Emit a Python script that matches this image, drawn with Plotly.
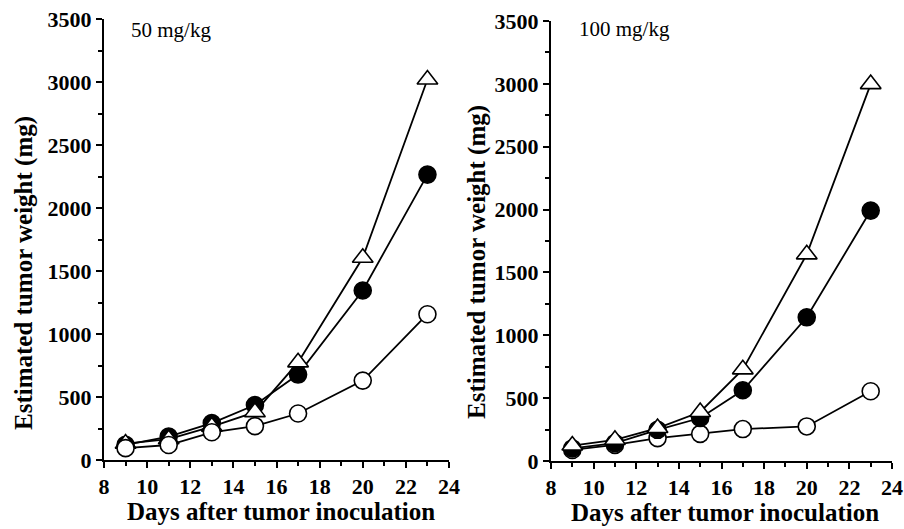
import plotly.graph_objects as go

days = [9, 11, 13, 15, 17, 20, 23]

# 50 mg/kg panel
left_triangle = [130, 165, 265, 380, 775, 1605, 3020]
left_filled = [120, 186, 293, 436, 678, 1345, 2265]
left_open = [94, 119, 220, 269, 369, 630, 1157]

# 100 mg/kg panel
right_triangle = [123, 168, 262, 390, 729, 1644, 2998]
right_filled = [100, 142, 248, 342, 563, 1143, 1992]
right_open = [88, 128, 182, 216, 254, 275, 555]

panel_labels = ["50 mg/kg", "100 mg/kg"]
x_title = "Days after tumor inoculation"
y_title = "Estimated tumor weight (mg)"

SERIF = "Liberation Serif, Times New Roman, serif"

fig = go.Figure()

def add_series(y, xa, ya, symbol, fill):
    fig.add_trace(go.Scatter(
        x=days, y=y, xaxis=xa, yaxis=ya, mode="lines+markers",
        line=dict(color="black", width=1.8),
        marker=dict(symbol=symbol, size=17 if symbol == "circle" else 18,
                    color=fill, line=dict(color="black", width=1.6)),
        showlegend=False, cliponaxis=False,
    ))

# left panel: triangle below open circle
add_series(left_filled, "x", "y", "circle", "black")
add_series(left_triangle, "x", "y", "triangle-up", "white")
add_series(left_open, "x", "y", "circle", "white")
# right panel: triangle on top
add_series(right_open, "x2", "y2", "circle", "white")
add_series(right_filled, "x2", "y2", "circle", "black")
add_series(right_triangle, "x2", "y2", "triangle-up", "white")

W, H = 904, 529

def xaxis(domain, anchor):
    return dict(domain=domain, anchor=anchor, range=[8, 24], dtick=2, tick0=8,
                showline=True, linecolor="black", linewidth=2, mirror=False,
                ticks="outside", ticklen=6, tickwidth=2, tickcolor="black",
                minor=dict(dtick=1, tick0=8, ticks="outside", ticklen=4, tickwidth=1.5, tickcolor="black"),
                showgrid=False, zeroline=False, fixedrange=True,
                tickfont=dict(family=SERIF, size=22, color="black", weight="bold"))

def yaxis(domain, anchor):
    return dict(domain=domain, anchor=anchor, range=[0, 3500], dtick=500, tick0=0,
                showline=True, linecolor="black", linewidth=2, mirror=False,
                ticks="outside", ticklen=6, tickwidth=2, tickcolor="black",
                minor=dict(dtick=250, tick0=0, ticks="outside", ticklen=4, tickwidth=1.5, tickcolor="black"),
                showgrid=False, zeroline=False, fixedrange=True,
                tickfont=dict(family=SERIF, size=22, color="black", weight="bold"))

fig.update_layout(
    width=W, height=H, margin=dict(l=0, r=0, t=0, b=0, autoexpand=False),
    paper_bgcolor="white", plot_bgcolor="rgba(0,0,0,0)",
    xaxis=xaxis([104 / W, 449 / W], "y"),
    yaxis=yaxis([(H - 460) / H, (H - 19) / H], "x"),
    xaxis2=xaxis([551 / W, 892 / W], "y2"),
    yaxis2=yaxis([(H - 461) / H, (H - 21) / H], "x2"),
)

ann = []
def t(text, x, y, size, bold=True, angle=0):
    ann.append(dict(text=text, x=x / W, y=1 - y / H, xref="paper", yref="paper",
                    showarrow=False, textangle=angle, xanchor="center", yanchor="middle",
                    font=dict(family=SERIF, size=size, color="black",
                              weight="bold" if bold else "normal")))

t(x_title, 281, 511, 25)
t(x_title, 725, 512, 25)
t(y_title, 24, 273, 25, angle=-90)
t(y_title, 477, 262, 25, angle=-90)
ann.append(dict(text=panel_labels[0], x=129 / W, y=1 - 30 / H, xref="paper", yref="paper",
                showarrow=False, xanchor="left", yanchor="middle",
                font=dict(family=SERIF, size=21, color="black")))
ann.append(dict(text=panel_labels[1], x=577 / W, y=1 - 29 / H, xref="paper", yref="paper",
                showarrow=False, xanchor="left", yanchor="middle",
                font=dict(family=SERIF, size=21, color="black")))
fig.update_layout(annotations=ann)

fig.write_html("out.html")
